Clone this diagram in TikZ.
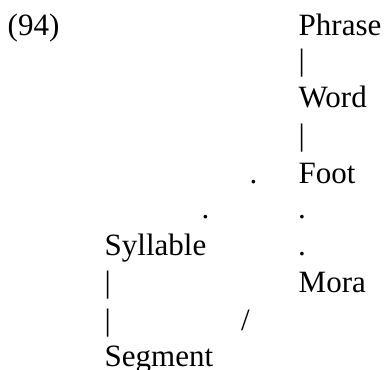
\documentclass[tikz,border=0pt]{standalone}
\usepackage{fontspec}
\setmainfont{Liberation Serif}
\begin{document}
\begin{tikzpicture}[x=1pt,y=-1pt,
        lbl/.style={anchor=base west,inner sep=0pt,font=\fontsize{31}{37}\selectfont}]
        \useasboundingbox(0,0)rectangle(385,369);
        %numero esempio
        \node[lbl](num) at (7.5,36){(94)};
        %colonna destra
        \node[lbl](phrase) at (298.5,36){Phrase};
        \node[lbl](barA) at (298.5,70.5){|};
        \node[lbl](word) at (298.5,107){Word};
        \node[lbl](barB) at (298.5,145){|};
        \node[lbl](foot) at (298.5,183){Foot};
        \node[lbl](dotA) at (298,218){.};
        \node[lbl](dotB) at (298,255){.};
        \node[lbl](mora) at (298.5,292.5){Mora};
        %puntini
        \node[lbl](dotC) at (249.5,183){.};
        \node[lbl](dotD) at (201.5,218){.};
        %colonna sinistra
        \node[lbl](syll) at (104.5,255){Syllable};
        \node[lbl](barC) at (104.5,292.5){|};
        \node[lbl](barD) at (104.5,330){|};
        \node[lbl](slash) at (241,330){/};
        \node[lbl](seg) at (104.5,366){Segment};
    \end{tikzpicture}
\end{document}
